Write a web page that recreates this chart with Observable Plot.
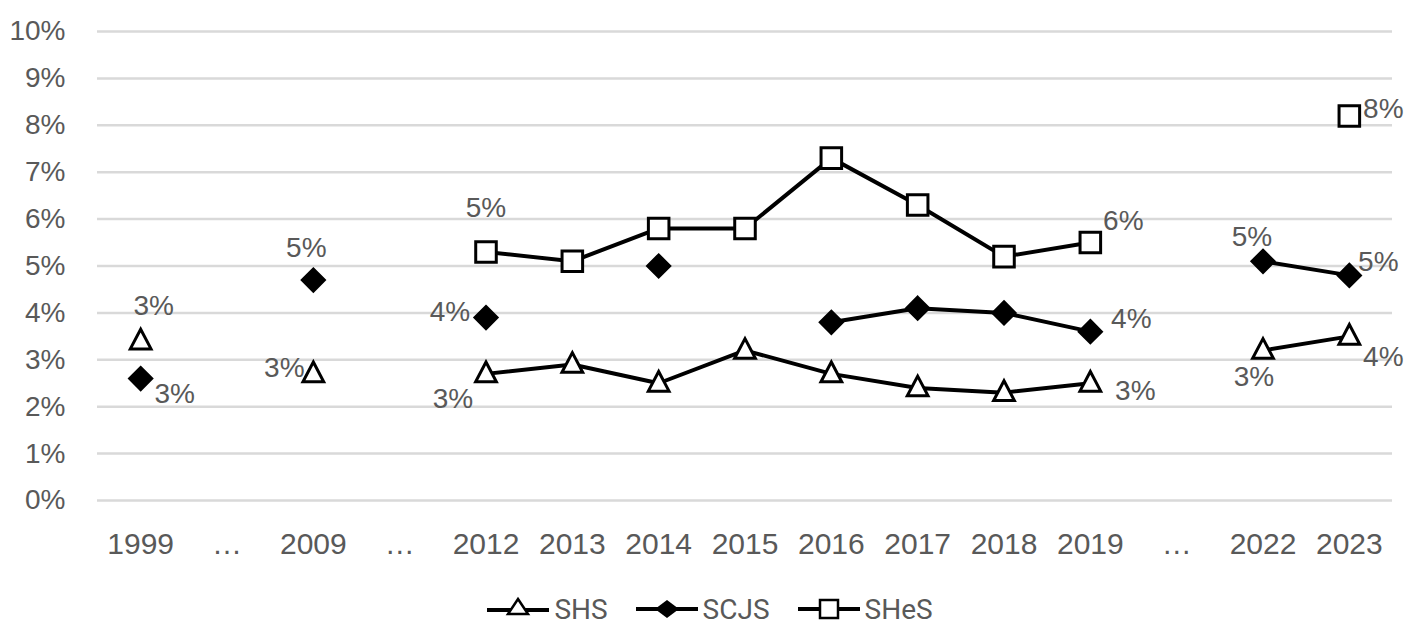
<!DOCTYPE html>
<html><head><meta charset="utf-8">
<script src="https://cdn.jsdelivr.net/npm/d3@7"></script>
<script src="https://cdn.jsdelivr.net/npm/@observablehq/plot@0.6"></script>
<style>
body{margin:0;background:#fff;font-family:"Liberation Sans",Arial,sans-serif;}
#wrap{position:relative;width:1414px;height:644px;}
#legend{position:absolute;left:0;top:589px;width:1414px;height:40px;display:flex;justify-content:center;align-items:center;font-family:Roboto,sans-serif;font-size:28px;color:#595959;padding-left:6px;box-sizing:border-box;}
.item{display:flex;align-items:center;margin:0 14px;}
.item svg{display:block;}
.item span{margin-left:5px;}
</style></head><body>
<div id="wrap"><div id="chart"></div><div id="legend"></div></div>
<script>
// ---- data ----
const categories = ["1999","…","2009","…","2012","2013","2014","2015","2016","2017","2018","2019","…","2022","2023"];
const seriesNames = ["SHS","SCJS","SHeS"];
const shs  = [3.4, null, 2.7, null, 2.7, 2.9, 2.5, 3.2, 2.7, 2.4, 2.3, 2.5, null, 3.2, 3.5];
const scjs = [2.6, null, 4.7, null, 3.9, null, 5.0, null, 3.8, 4.1, 4.0, 3.6, null, 5.1, 4.8];
const shes = [null, null, null, null, 5.3, 5.1, 5.8, 5.8, 7.3, 6.3, 5.2, 5.5, null, null, 8.2];
const yTicks = [0,1,2,3,4,5,6,7,8,9,10];

// ---- label placement (style) ----
const labelPlacement = [
  {s:"SHS", i:0, dx:13, dy:-35}, {s:"SHS", i:2, dx:-29, dy:-6}, {s:"SHS", i:4, dx:-33, dy:25},
  {s:"SHS", i:11, dx:45, dy:8}, {s:"SHS", i:13, dx:-9, dy:27}, {s:"SHS", i:14, dx:34, dy:21},
  {s:"SCJS", i:0, dx:34, dy:15}, {s:"SCJS", i:2, dx:-7, dy:-32}, {s:"SCJS", i:4, dx:-36, dy:-6},
  {s:"SCJS", i:11, dx:41, dy:-13}, {s:"SCJS", i:13, dx:-11, dy:-24}, {s:"SCJS", i:14, dx:29, dy:-13},
  {s:"SHeS", i:4, dx:0, dy:-44}, {s:"SHeS", i:11, dx:33, dy:-22}, {s:"SHeS", i:14, dx:34, dy:-7}
];

const valuesBySeries = {SHS: shs, SCJS: scjs, SHeS: shes};
const rows = s => valuesBySeries[s].map((v, i) => ({i, v}));

// custom symbols
const triangle = {draw(ctx, size){ const w = Math.sqrt(size)*0.75; const h = w*0.95; ctx.moveTo(0,-h*0.6); ctx.lineTo(w/2,h*0.4); ctx.lineTo(-w/2,h*0.4); ctx.closePath(); }};
const diamond = {draw(ctx, size){ const h = Math.sqrt(size)/2; ctx.moveTo(0,-h); ctx.lineTo(h,0); ctx.lineTo(0,h); ctx.lineTo(-h,0); ctx.closePath(); }};
const square = {draw(ctx, size){ const h = Math.sqrt(size)/2; ctx.rect(-h,-h,2*h,2*h); }};
const sym = {SHS: triangle, SCJS: diamond, SHeS: square};
const rr = {SHS: 15.6, SCJS: 12.4, SHeS: 11.6};
const fill = {SHS: "white", SCJS: "black", SHeS: "white"};

const marks = [
  Plot.gridY(yTicks, {stroke: "#d9d9d9", strokeOpacity: 1, strokeWidth: 2.5}),
  Plot.axisY(yTicks, {tickFormat: d => d + "%", tickSize: 0, tickPadding: 32, label: null, fontSize: 28}),
  Plot.axisX(d3.range(categories.length), {tickFormat: i => categories[i], tickSize: 0, tickPadding: 32, label: null, fontSize: 30})
];
for (const s of seriesNames) {
  marks.push(Plot.line(rows(s), {x: "i", y: "v", stroke: "black", strokeWidth: 4, defined: d => d.v != null}));
}
for (const s of seriesNames) {
  marks.push(Plot.dot(rows(s).filter(d => d.v != null), {x: "i", y: "v", symbol: sym[s], r: rr[s], fill: fill[s], stroke: "black", strokeWidth: 3}));
}
for (const l of labelPlacement) {
  const v = valuesBySeries[l.s][l.i];
  marks.push(Plot.text([{i: l.i, v}], {x: "i", y: "v", text: d => Math.round(d.v) + "%", dx: l.dx, dy: l.dy, fill: "#595959", fontSize: 28}));
}

const chart = Plot.plot({
  width: 1414, height: 590,
  marginLeft: 97, marginRight: 22, marginTop: 31, marginBottom: 90,
  x: {type: "point", domain: d3.range(categories.length), padding: 0.5, round: false},
  y: {domain: [0, 10]},
  style: {fontFamily: '"Liberation Sans", Arial, sans-serif', fontSize: "28px", color: "#595959", background: "white", overflow: "visible"},
  marks
});
document.getElementById("chart").appendChild(chart);

// legend
const legendSvg = {
  SHS: '<line x1="0" y1="19" x2="62" y2="19" stroke="black" stroke-width="4"/><path d="M31,8 L41,23 L21,23 Z" fill="white" stroke="black" stroke-width="2.5"/>',
  SCJS: '<line x1="0" y1="18" x2="62" y2="18" stroke="black" stroke-width="4"/><path d="M31,9 L43,18 L31,27 L19,18 Z" fill="black"/>',
  SHeS: '<line x1="0" y1="18" x2="62" y2="18" stroke="black" stroke-width="4"/><rect x="22" y="9" width="18" height="18" fill="white" stroke="black" stroke-width="2.5"/>'
};
const lg = document.getElementById("legend");
for (const s of seriesNames) {
  const d = document.createElement("div");
  d.className = "item";
  d.innerHTML = '<svg width="62" height="36" viewBox="0 0 62 36">' + legendSvg[s] + '</svg><span>' + s + '</span>';
  lg.appendChild(d);
}
</script>
</body></html>
